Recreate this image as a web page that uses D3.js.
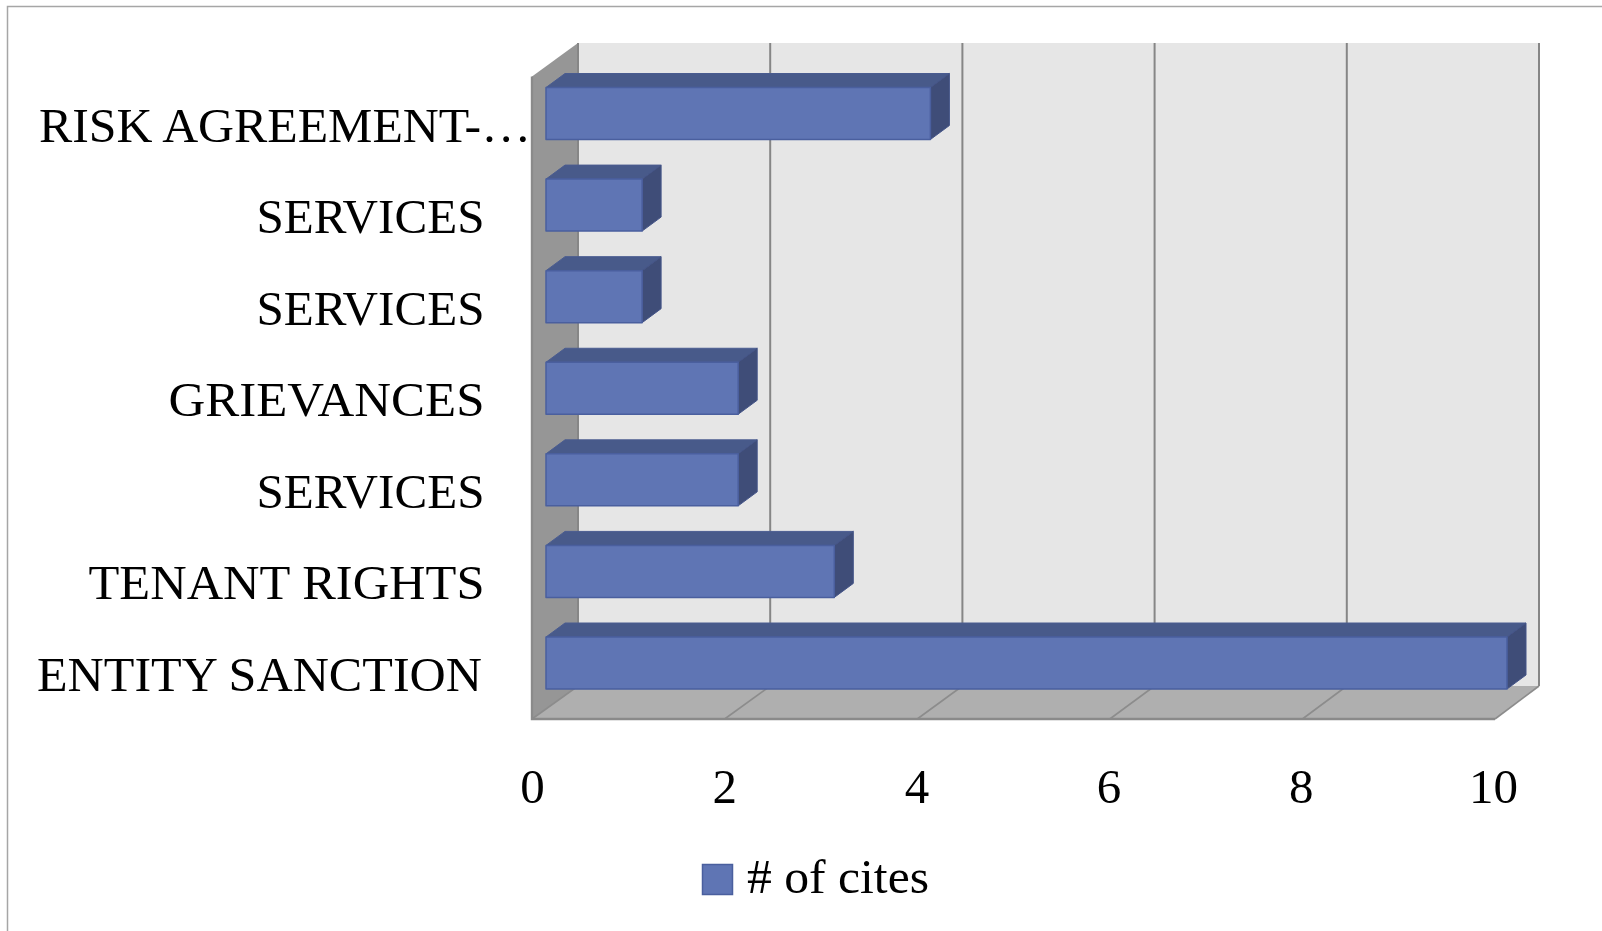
<!DOCTYPE html>
<html><head><meta charset="utf-8">
<script src="https://cdn.jsdelivr.net/npm/d3@7"></script>
<style>html,body{margin:0;padding:0;background:#fff}svg{display:block}text{font-family:"Liberation Serif",serif;fill:#000}</style>
</head><body><svg id="c" width="1602" height="931"></svg>
<script>
const categories=["RISK AGREEMENT-…","SERVICES","SERVICES","GRIEVANCES","SERVICES","TENANT RIGHTS","ENTITY SANCTION"];
const values=[4,1,1,2,2,3,10];
const xTicks=[0,2,4,6,8,10];
const seriesName="# of cites";

const svg=d3.select("#c");
const W={l:532,r:1495,top:76.5,bot:719};
const x=d3.scaleLinear().domain([0,10]).range([W.l,W.r]);
const back=d3.scaleLinear().domain([0,10]).range([578,1539]);
const tickX=d3.scaleLinear().domain([0,10]).range([W.l,1493]);
const poly=(pts,fill,stroke,sw)=>svg.append("polygon").attr("points",pts.map(p=>p.join(",")).join(" ")).attr("fill",fill).attr("stroke",stroke||"none").attr("stroke-width",sw||0).attr("stroke-linejoin","round");

// frame
svg.append("path").attr("d","M7.5,931V6.5H1602").attr("fill","none").attr("stroke","#a6a6a6").attr("stroke-width",1.5);

// back wall, side wall, floor
const fy=W.bot, by=686, ty=43;
poly([[back(0),ty],[back(10),ty],[back(10),by],[back(0),by]],"#e6e6e6");
poly([[x(0),W.top],[back(0),ty],[back(0),by],[x(0),fy]],"#969696");
poly([[x(0),fy],[back(0),by],[back(10),by],[x(10),fy]],"#afafaf");
xTicks.forEach(t=>{
  svg.append("line").attr("x1",back(t)).attr("x2",back(t)).attr("y1",ty).attr("y2",by).attr("stroke","#868686").attr("stroke-width",2);
  svg.append("line").attr("x1",x(t)).attr("x2",back(t)).attr("y1",fy).attr("y2",by).attr("stroke","#8c8c8c").attr("stroke-width",1.6);
});
svg.append("path").attr("d",`M${x(0)},${W.top}V${fy}H${x(10)}`).attr("fill","none").attr("stroke","#8a8a8a").attr("stroke-width",2.4);

// bars
const bar=d3.scaleLinear().domain([0,10]).range([546,1507]);
const barTop=d3.scaleLinear().domain([0,6]).range([87.5,637]);
const barH=52;
const dd={x:19,y:-14};
values.forEach((v,i)=>{
  const x0=bar(0),x1=bar(v),t=barTop(i),b=t+barH;
  poly([[x0,t],[x0+dd.x,t+dd.y],[x1+dd.x,t+dd.y],[x1,t]],"#485a8a","#4a5c90",1);
  poly([[x1,t],[x1+dd.x,t+dd.y],[x1+dd.x,b+dd.y],[x1,b]],"#3f4d78","#445488",1);
  poly([[x0,t],[x1,t],[x1,b],[x0,b]],"#5f75b4","#4a5f9e",1.5);
});

// axes
const fs=49;
const ax=svg.append("g").attr("transform","translate(0,803)").call(d3.axisBottom(tickX).tickValues(xTicks).tickSize(0).tickPadding(0));
ax.select(".domain").remove();
ax.selectAll("text").attr("font-size",fs).attr("dy",0).attr("y",0).style("font-family",'"Liberation Serif",serif');

const ly=d3.scaleLinear().domain([0,6]).range([141.5,691]);
const anchors=[531,484.5,484.5,484.5,484.5,484.5,482];
const widths=[492,228,228,316,396,396,445];
widths[4]=228;
categories.forEach((c,i)=>{
  svg.append("text").attr("x",anchors[i]).attr("y",ly(i)).attr("text-anchor","end").attr("font-size",fs)
    .attr("textLength",widths[i]).attr("lengthAdjust","spacingAndGlyphs").text(c);
});

// legend
svg.append("rect").attr("x",702.5).attr("y",864.5).attr("width",30).attr("height",30).attr("fill","#5f75b4").attr("stroke","#4a5f9e").attr("stroke-width",1.5);
svg.append("text").attr("x",747).attr("y",893).attr("font-size",fs).attr("textLength",182).attr("lengthAdjust","spacingAndGlyphs").text(seriesName);
</script></body></html>
